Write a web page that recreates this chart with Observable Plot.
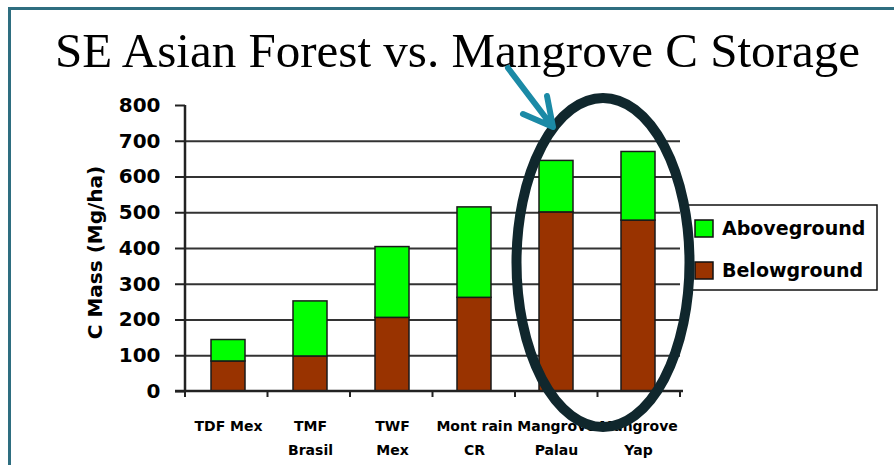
<!DOCTYPE html>
<html><head><meta charset="utf-8">
<script src="https://cdn.jsdelivr.net/npm/d3@7"></script>
<script src="https://cdn.jsdelivr.net/npm/@observablehq/plot@0.6"></script>
<style>html,body{margin:0;padding:0;background:#fff;} #chart{position:relative;width:894px;height:465px;overflow:hidden}</style>
</head><body><div id="chart"></div>
<script>
const title = "SE Asian Forest vs. Mangrove C Storage";
const sites = ["TDF Mex","TMF Brasil","TWF Mex","Mont rain CR","Mangrove Palau","Mangrove Yap"];
const siteLabels = ["TDF Mex","TMF\nBrasil","TWF\nMex","Mont rain\nCR","Mangrove\nPalau","Mangrove\nYap"];
const seriesNames = ["Aboveground","Belowground"];
const belowground = [84, 98, 206, 262, 501, 478];
const aboveground = [60, 154, 198, 253, 144, 192];
const yTicks = [0,100,200,300,400,500,600,700,800];
const gridValues = [100,200,300,400,500,600,700];
const seriesColors = ["#00ff00", "#993300"];
const yLabel = "C Mass (Mg/ha)";
const highlighted = ["Mangrove Palau","Mangrove Yap"];

const rows = [];
sites.forEach((s,i)=>{
  rows.push({site:s, series:"Belowground", value: belowground[i]});
  rows.push({site:s, series:"Aboveground", value: aboveground[i]});
});

const PI = 0.59, PO = 0.295;
const plot = Plot.plot({
  width: 894, height: 465,
  marginTop: 105, marginBottom: 74, marginLeft: 185, marginRight: 214,
  style: {background: "transparent", fontFamily: "DejaVu Sans", fontWeight: "bold", color: "#000", overflow: "visible"},
  x: {domain: sites, paddingInner: PI, paddingOuter: PO, label: null},
  y: {domain: [0,800], label: null},
  color: {domain: seriesNames, range: seriesColors},
  marks: [
    Plot.ruleY(gridValues, {stroke:"#333", strokeWidth:2}),
    Plot.barY(rows, {x:"site", y:"value", fill:"series", stroke:"#1a1a1a", strokeWidth:1.5, order: ["Belowground","Aboveground"]}),
    Plot.axisY({ticks: yTicks, tickSize: 10, tickPadding: 15, fontSize: 20, label: null, strokeWidth: 2, stroke:"#222"}),
    Plot.axisX({tickSize: 0, tickPadding: 22, fontSize: 14, lineHeight: 1.75, label: null,
      tickFormat: d => siteLabels[sites.indexOf(d)]}),
    Plot.text([yLabel], {frameAnchor: "left", rotate: -90, textAnchor: "middle", dx: -90, dy: 4, fontSize: 20, text: d => d}),
    Plot.text([title], {frameAnchor: "top", dx: 24.5, dy: -39, lineAnchor: "bottom", fontSize: 49,
      fontFamily: "Liberation Serif", fontWeight: "normal", text: d => d})
  ]
});
document.getElementById("chart").appendChild(plot);

const svg = d3.select(plot);
const xs = plot.scale("x"), ys = plot.scale("y"), cs = plot.scale("color");
const [x0, x1] = xs.range;
const step = (x1 - x0) / (sites.length - PI + 2*PO);
const yBase = ys.apply(0), yTop = ys.apply(800);

// title width fit
svg.selectAll("text").filter(function(){ return this.textContent === title; })
  .attr("textLength", 805).attr("lengthAdjust", "spacingAndGlyphs");

const g = svg.append("g");
// axes lines
g.append("line").attr("x1", x0).attr("x2", x0).attr("y1", yTop).attr("y2", yBase + 1).attr("stroke", "#222").attr("stroke-width", 2.5);
g.append("line").attr("x1", x0 - 10).attr("x2", x1 + 3).attr("y1", yBase).attr("y2", yBase).attr("stroke", "#222").attr("stroke-width", 2.5);
for (let i = 0; i <= sites.length; i++) {
  const bx = x0 + i*step;
  g.append("line").attr("x1", bx).attr("x2", bx).attr("y1", yBase).attr("y2", yBase + 6).attr("stroke", "#222").attr("stroke-width", 2);
}

// legend
const lg = svg.append("g");
lg.append("rect").attr("x", 686).attr("y", 205).attr("width", 191).attr("height", 85)
  .attr("fill", "#fff").attr("stroke", "#111").attr("stroke-width", 1.5);
seriesNames.forEach((s, i) => {
  const yy = 220 + i*42;
  lg.append("rect").attr("x", 695).attr("y", yy).attr("width", 18).attr("height", 17)
    .attr("fill", cs.apply(s)).attr("stroke", "#111").attr("stroke-width", 1.5);
  lg.append("text").attr("x", 722).attr("y", yy + 15).text(s).attr("text-anchor", "start")
    .attr("font-family", "DejaVu Sans").attr("font-weight", "bold").attr("font-size", 19).attr("fill", "#000");
});

// highlight ellipse around mangrove bars
const c1 = xs.apply(highlighted[0]) + xs.bandwidth/2, c2 = xs.apply(highlighted[1]) + xs.bandwidth/2;
svg.append("ellipse").attr("cx", (c1 + c2)/2 + 6).attr("cy", 262.5).attr("rx", 86.5).attr("ry", 164.5)
  .attr("fill", "none").attr("stroke", "#10272d").attr("stroke-width", 10);

// arrow
const ar = svg.append("g").attr("stroke", "#1b8aa6").attr("stroke-width", 6).attr("stroke-linecap", "round").attr("fill", "none");
ar.append("path").attr("d", "M508,68 L552,126 M523,114 L553,127 L547,96").attr("stroke-linejoin", "round");

// slide border
svg.append("path").attr("d", "M9.5,465 L9.5,8.5 L894,8.5").attr("fill", "none").attr("stroke", "#2e6e80").attr("stroke-width", 3);
</script>
</body></html>
